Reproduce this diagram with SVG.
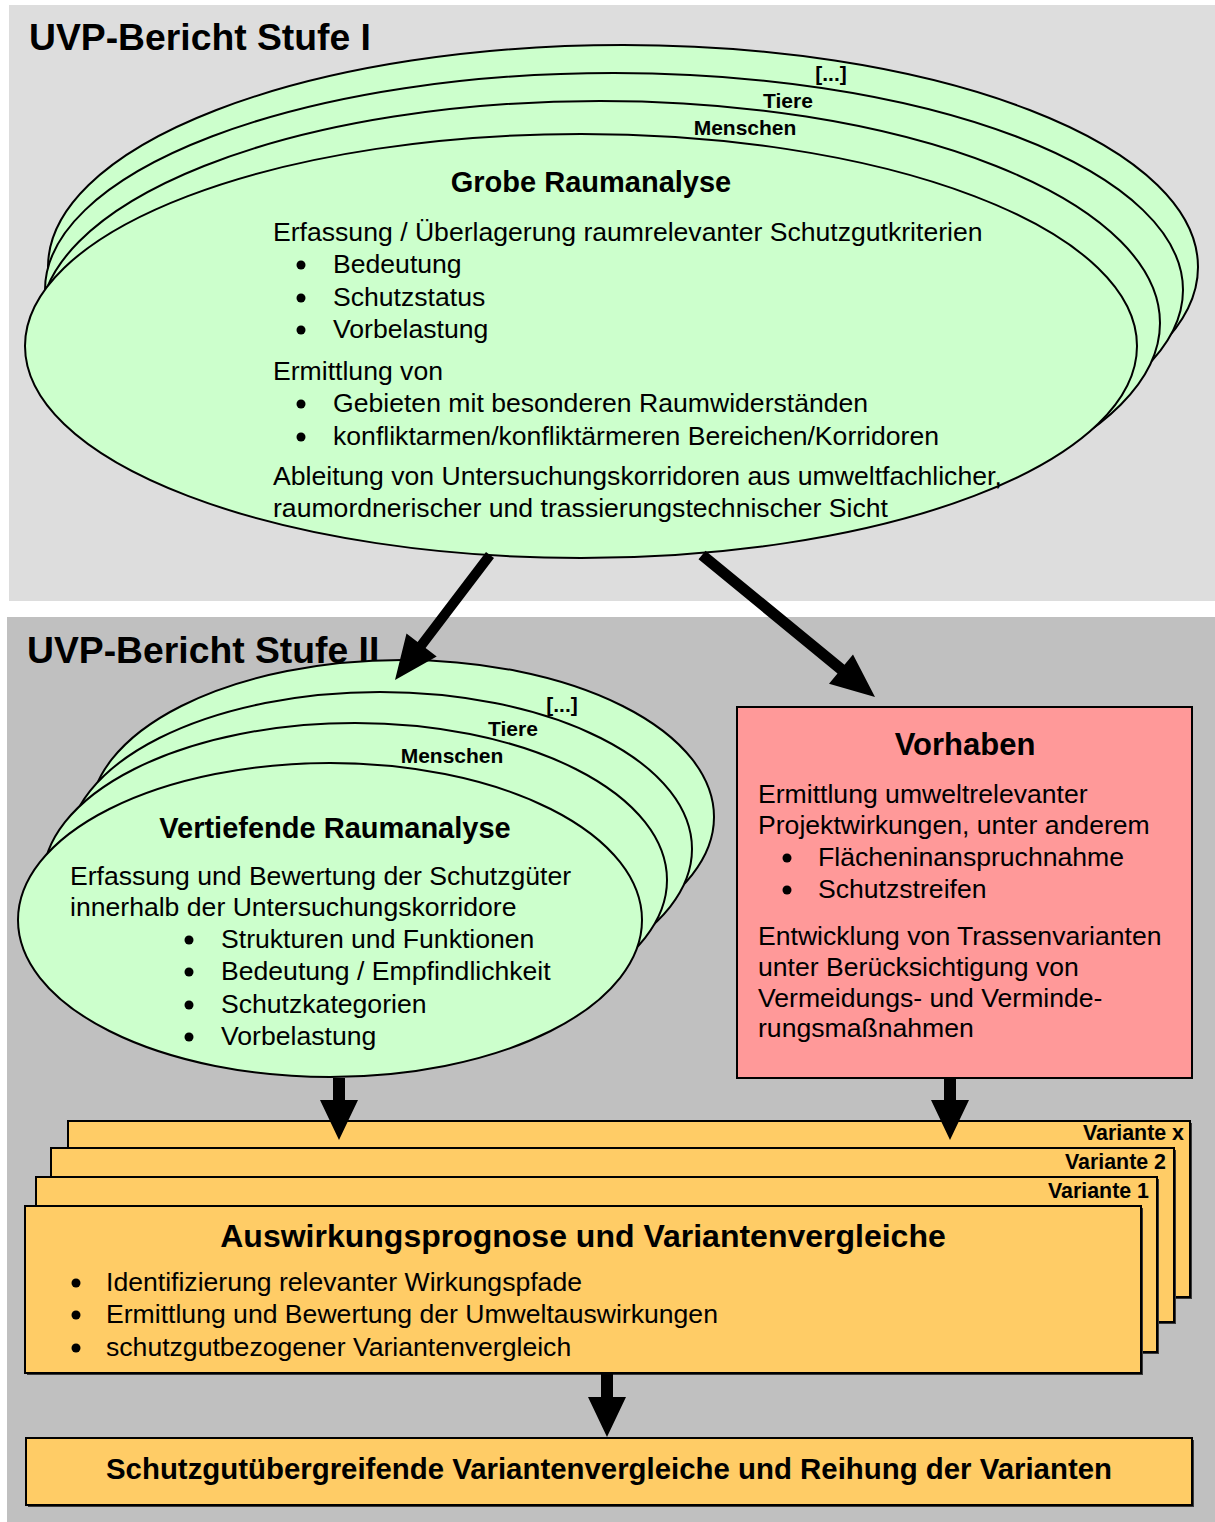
<svg xmlns="http://www.w3.org/2000/svg" width="1215" height="1522" viewBox="0 0 1215 1522">
<style>
text{font-family:"Liberation Sans",Arial,sans-serif;fill:#000}
.t{font-size:26.6px}
.h{font-size:29px;font-weight:bold;text-anchor:middle}
.title{font-size:37.3px;font-weight:bold}
.lab{font-size:21px;font-weight:bold;text-anchor:middle}
.var{font-size:21.4px;font-weight:bold;text-anchor:end}
.dot{fill:#000}
.ell{fill:#ccffcc;stroke:#000;stroke-width:2}
.org{fill:#ffcc66;stroke:#000;stroke-width:2}
.shadow{fill:#3a3a3a}
.arrow{fill:#000}
</style>
<rect width="1215" height="1522" fill="#fff"/>
<rect x="9" y="5" width="1206" height="596" fill="#dddddd"/>
<rect x="7" y="617" width="1208" height="905" fill="#c0c0c0"/>
<text class="title" x="29" y="50">UVP-Bericht Stufe I</text>
<text class="title" x="27" y="663">UVP-Bericht Stufe II</text>

<g id="grobe-raumanalyse">
<ellipse class="ell" cx="623" cy="267" rx="575" ry="222"/>
<text class="lab" x="831" y="81">[...]</text>
<ellipse class="ell" cx="614" cy="290" rx="569" ry="217"/>
<text class="lab" x="788" y="108">Tiere</text>
<ellipse class="ell" cx="600" cy="323" rx="560" ry="222"/>
<text class="lab" x="745" y="135">Menschen</text>
<ellipse class="ell" cx="581" cy="346" rx="556" ry="212"/>
<text class="h" x="591" y="192">Grobe Raumanalyse</text>
<text class="t" x="273" y="241">Erfassung / Überlagerung raumrelevanter Schutzgutkriterien</text>
<circle class="dot" cx="301" cy="265" r="4.5"/><text class="t" x="333" y="273">Bedeutung</text>
<circle class="dot" cx="301" cy="298" r="4.5"/><text class="t" x="333" y="306">Schutzstatus</text>
<circle class="dot" cx="301" cy="330" r="4.5"/><text class="t" x="333" y="338">Vorbelastung</text>
<text class="t" x="273" y="380">Ermittlung von</text>
<circle class="dot" cx="301" cy="404" r="4.5"/><text class="t" x="333" y="412">Gebieten mit besonderen Raumwiderständen</text>
<circle class="dot" cx="301" cy="437" r="4.5"/><text class="t" x="333" y="445">konfliktarmen/konfliktärmeren Bereichen/Korridoren</text>
<text class="t" x="273" y="485">Ableitung von Untersuchungskorridoren aus umweltfachlicher,</text>
<text class="t" x="273" y="517">raumordnerischer und trassierungstechnischer Sicht</text>
</g>

<g id="vertiefende-raumanalyse">
<ellipse class="ell" cx="402" cy="817" rx="312" ry="157"/>
<text class="lab" x="562" y="712">[...]</text>
<ellipse class="ell" cx="380" cy="849" rx="312" ry="157"/>
<text class="lab" x="513" y="736">Tiere</text>
<ellipse class="ell" cx="355" cy="880" rx="312" ry="157"/>
<text class="lab" x="452" y="763">Menschen</text>
<ellipse class="ell" cx="330" cy="920" rx="312" ry="157"/>
<text class="h" x="335" y="838">Vertiefende Raumanalyse</text>
<text class="t" x="70" y="885">Erfassung und Bewertung der Schutzgüter</text>
<text class="t" x="70" y="916">innerhalb der Untersuchungskorridore</text>
<circle class="dot" cx="189" cy="940" r="4.5"/><text class="t" x="221" y="948">Strukturen und Funktionen</text>
<circle class="dot" cx="189" cy="972" r="4.5"/><text class="t" x="221" y="980">Bedeutung / Empfindlichkeit</text>
<circle class="dot" cx="189" cy="1005" r="4.5"/><text class="t" x="221" y="1013">Schutzkategorien</text>
<circle class="dot" cx="189" cy="1037" r="4.5"/><text class="t" x="221" y="1045">Vorbelastung</text>
</g>

<g id="vorhaben">
<rect x="737" y="707" width="455" height="371" fill="#ff9999" stroke="#000" stroke-width="2"/>
<text class="h" x="965" y="755" style="font-size:31px">Vorhaben</text>
<text class="t" x="758" y="803">Ermittlung umweltrelevanter</text>
<text class="t" x="758" y="834">Projektwirkungen, unter anderem</text>
<circle class="dot" cx="787" cy="858" r="4.5"/><text class="t" x="818" y="866">Flächeninanspruchnahme</text>
<circle class="dot" cx="787" cy="890" r="4.5"/><text class="t" x="818" y="898">Schutzstreifen</text>
<text class="t" x="758" y="945">Entwicklung von Trassenvarianten</text>
<text class="t" x="758" y="976">unter Berücksichtigung von</text>
<text class="t" x="758" y="1007">Vermeidungs- und Verminde-</text>
<text class="t" x="758" y="1037">rungsmaßnahmen</text>
</g>

<g id="auswirkungsprognose">
<rect class="shadow" x="70" y="1123" width="1122" height="176"/>
<rect class="org" x="68" y="1121" width="1122" height="176"/>
<text class="var" x="1184" y="1140">Variante x</text>
<rect class="shadow" x="53" y="1150" width="1123" height="174"/>
<rect class="org" x="51" y="1148" width="1123" height="174"/>
<text class="var" x="1166" y="1169">Variante 2</text>
<rect class="shadow" x="38" y="1179" width="1121" height="175"/>
<rect class="org" x="36" y="1177" width="1121" height="175"/>
<text class="var" x="1149" y="1198">Variante 1</text>
<rect class="shadow" x="27" y="1208" width="1116" height="167"/>
<rect class="org" x="25" y="1206" width="1116" height="167"/>
<text class="h" x="583" y="1247" style="font-size:32px">Auswirkungsprognose und Variantenvergleiche</text>
<circle class="dot" cx="76" cy="1283" r="4.5"/><text class="t" x="106" y="1291">Identifizierung relevanter Wirkungspfade</text>
<circle class="dot" cx="76" cy="1315" r="4.5"/><text class="t" x="106" y="1323">Ermittlung und Bewertung der Umweltauswirkungen</text>
<circle class="dot" cx="76" cy="1348" r="4.5"/><text class="t" x="106" y="1356">schutzgutbezogener Variantenvergleich</text>
</g>

<g id="reihung">
<rect class="shadow" x="28" y="1440" width="1166" height="67"/>
<rect class="org" x="26" y="1438" width="1166" height="67"/>
<text class="h" x="609" y="1479" style="font-size:29.4px">Schutzgutübergreifende Variantenvergleiche und Reihung der Varianten</text>
</g>

<g id="connectors">
<polygon class="arrow" points="494,558 425.6,648 436.7,656.5 395,680 406.5,633.5 417.6,642 486,552"/>
<polygon class="arrow" points="698.5,559.3 837.5,673.4 829,683.8 875,697 853,654.4 844.5,664.8 705.5,550.7"/>
<polygon class="arrow" points="333,1078 345,1078 345,1100 358,1100 339,1140 320,1100 333,1100"/>
<polygon class="arrow" points="944,1078 956,1078 956,1100 969,1100 950,1140 931,1100 944,1100"/>
<polygon class="arrow" points="601,1374 613,1374 613,1397 626,1397 607,1437 588,1397 601,1397"/>
</g>
</svg>
